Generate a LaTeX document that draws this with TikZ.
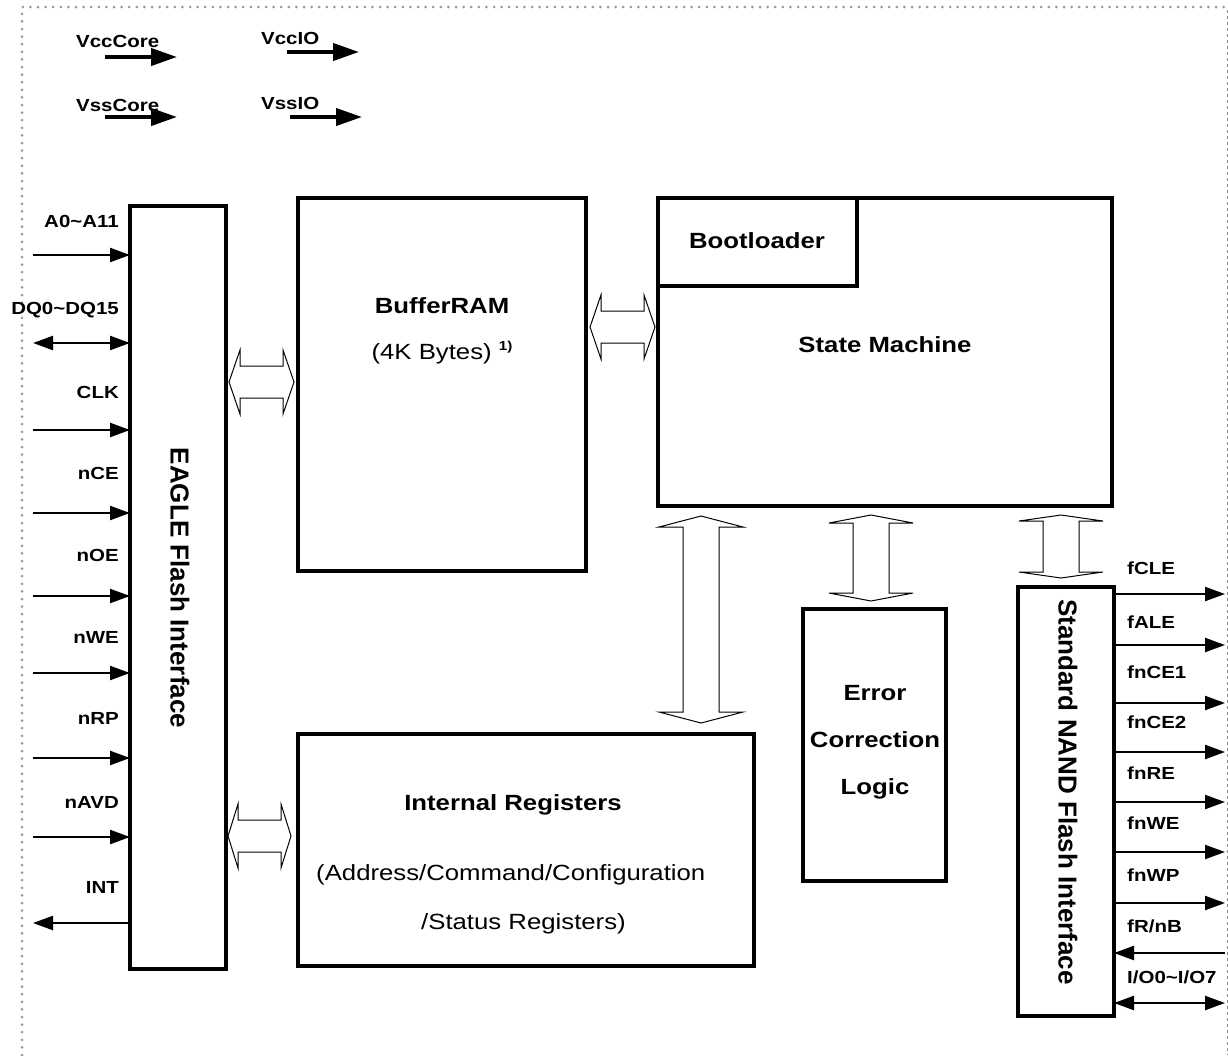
\documentclass[tikz,border=0pt]{standalone}
\usepackage{fontspec}
\setmainfont{Liberation Sans}[FakeStretch=1.17]
\newfontfamily\vertfont{Liberation Sans}
\usetikzlibrary{arrows.meta,calc}
\tikzstyle{blk} = [draw,line width=3.5pt,rectangle,inner sep=0,outer sep=0,anchor=north west]
\tikzstyle{title} = [inner sep=0,font=\fontsize{22}{47}\selectfont\bfseries,align=center]
\tikzstyle{note} = [inner sep=0,font=\fontsize{22}{47}\selectfont]
\tikzstyle{one} = [text height=15.8pt,text depth=0pt]
\tikzstyle{sig} = [inner sep=0,font=\fontsize{17.5}{20}\selectfont\bfseries,text height=12.5pt,text depth=0pt]
\tikzstyle{sidelbl} = [inner sep=0,rotate=-90,font=\vertfont\fontsize{26}{30}\selectfont\bfseries,text height=18.6pt,text depth=0pt]
\tikzstyle{pinin} = [-{Triangle[length=20pt,width=14pt]},line width=2.3pt]
\tikzstyle{pinout} = [{Triangle[length=20pt,width=14pt]}-,line width=2.3pt]
\tikzstyle{pinboth} = [{Triangle[length=20pt,width=14pt]}-{Triangle[length=20pt,width=14pt]},line width=2.3pt]
\tikzstyle{supply} = [-{Triangle[length=26pt,width=17pt]},line width=4pt]
\tikzstyle{bus} = [draw,line width=1pt,line join=miter]
\tikzstyle{frame} = [black!40,line width=3pt,line cap=round,dash pattern=on 0pt off 7.6pt]
\def \headhalf {32}
\def \shafthalf {16}
\def \vheadhalf {42}
\def \vshafthalf {18}
% hollow double arrows: tip, tip, head length
\newcommand\hbus[3]{\draw[bus] (#1) -- ++(#3,-\headhalf) -- ++(0,\headhalf-\shafthalf) -- ($(#2)+(-#3,-\shafthalf)$) -- ++(0,\shafthalf-\headhalf) -- (#2) -- ++(-#3,\headhalf) -- ++(0,\shafthalf-\headhalf) -- ($(#1)+(#3,\shafthalf)$) -- ++(0,\headhalf-\shafthalf) -- cycle;}
\newcommand\vbus[3]{\draw[bus] (#1) -- ++(\vheadhalf,#3) -- ++(\vshafthalf-\vheadhalf,0) -- ($(#2)+(\vshafthalf,-#3)$) -- ++(\vheadhalf-\vshafthalf,0) -- (#2) -- ++(-\vheadhalf,-#3) -- ++(\vheadhalf-\vshafthalf,0) -- ($(#1)+(-\vshafthalf,#3)$) -- ++(\vshafthalf-\vheadhalf,0) -- cycle;}

\begin{document}
\begin{tikzpicture}[x=1pt,y=-1pt]
  \useasboundingbox (0,0) rectangle (1228,1055);
  \draw[frame] (22,1055) -- (22,7) -- (1228,7);
  \draw[black!45,line width=1pt,dash pattern=on 3pt off 3pt] (1227,10) -- (1227,1055);

  % supplies
  \foreach \txt/\lx/\ly/\ax/\ay in {VccCore/76/41/105/57, VccIO/261/38/287/52, VssCore/76/105/105/117, VssIO/261/103/290/117}{
    \node[sig,anchor=west] (s\lx-\ly) at (\lx,\ly) {\txt};
    \coordinate (a\lx-\ly) at (\ax,\ay);
    \draw[supply] (a\lx-\ly) -- ++(72,0);
  }

  % blocks
  \node[blk,minimum width=96,minimum height=763] (eagle) at (130,206) {};
  \node[blk,minimum width=288,minimum height=373] (buf) at (298,198) {};
  \node[blk,minimum width=454,minimum height=308] (sm) at (658,198) {};
  \node[blk,minimum width=199,minimum height=88] (boot) at (658,198) {};
  \node[blk,minimum width=456,minimum height=232] (ireg) at (298,734) {};
  \node[blk,minimum width=143,minimum height=272] (ecc) at (803,609) {};
  \node[blk,minimum width=96,minimum height=429] (nand) at (1018,587) {};

  \node[sidelbl] (eagle-t) at (180,588) {EAGLE Flash Interface};
  \node[sidelbl] (nand-t) at (1068,792) {Standard NAND Flash Interface};
  \node[title,one] (buf-t) at (442,306) {BufferRAM};
  \node[note,one] (buf-n) at (442,352) {(4K Bytes)~\raisebox{9pt}{\fontsize{13}{13}\selectfont\bfseries 1)}};
  \node[title,one] (boot-t) at (757,241) {Bootloader};
  \node[title,one] (sm-t) at (885,345) {State Machine};
  \node[title,one] (ireg-t) at (513,803) {Internal Registers};
  \node[note,one,anchor=west] (ireg-n) at (316,873) {(Address/Command/Configuration};
  \node[note,one,anchor=west] (ireg-m) at (421,922) {/Status Registers)};
  \node[title] (ecc-t) at (875,742) {Error\\Correction\\Logic};

  % EAGLE pins
  \foreach \txt/\ly/\ay/\kind in {A0\textasciitilde A11/221/255/pinin, DQ0\textasciitilde DQ15/308/343/pinboth, CLK/392/430/pinin, nCE/473/513/pinin, nOE/555/596/pinin, nWE/637/673/pinin, nRP/718/758/pinin, nAVD/802/837/pinin, INT/887/923/pinout}{
    \node[sig,anchor=east] (l\ay) at (119,\ly) {\txt};
    \coordinate (c\ay) at (33,\ay);
    \draw[\kind] (c\ay) -- (eagle.west |- c\ay);
  }

  % NAND pins
  \foreach \txt/\ly/\ay/\kind in {fCLE/568/594/pinout, fALE/622/645/pinout, fnCE1/672/703/pinout, fnCE2/722/752/pinout, fnRE/773/802/pinout, fnWE/823/852/pinout, fnWP/875/903/pinout, {fR/nB}/926/953/pinin, {I/O0\textasciitilde I/O7}/977/1003/pinboth}{
    \node[sig,anchor=west] (r\ay) at (1127,\ly) {\txt};
    \coordinate (q\ay) at (1225,\ay);
    \draw[\kind] (q\ay) -- (nand.east |- q\ay);
  }

  % buses
  \coordinate (b1l) at ($(eagle.east |- 0,382)+(3,0)$);
  \coordinate (b1r) at ($(buf.west |- 0,382)+(-4,0)$);
  \hbus{b1l}{b1r}{11}
  \coordinate (b2l) at ($(eagle.east |- 0,836)+(2,0)$);
  \coordinate (b2r) at ($(ireg.west |- 0,836)+(-7,0)$);
  \hbus{b2l}{b2r}{10}
  \coordinate (b3l) at ($(buf.east |- 0,327)+(4,0)$);
  \coordinate (b3r) at ($(sm.west |- 0,327)+(-3,0)$);
  \hbus{b3l}{b3r}{11}
  \coordinate (b4t) at ($(sm.south -| 701,0)+(0,10)$);
  \coordinate (b4b) at ($(ireg.north -| 701,0)+(0,-11)$);
  \vbus{b4t}{b4b}{11}
  \coordinate (b5t) at ($(sm.south -| 871,0)+(0,9)$);
  \coordinate (b5b) at ($(ecc.north -| 871,0)+(0,-8)$);
  \vbus{b5t}{b5b}{8}
  \coordinate (b6t) at ($(sm.south -| 1061,0)+(0,9)$);
  \coordinate (b6b) at ($(nand.north -| 1061,0)+(0,-9)$);
  \vbus{b6t}{b6b}{6}
\end{tikzpicture}
\end{document}
